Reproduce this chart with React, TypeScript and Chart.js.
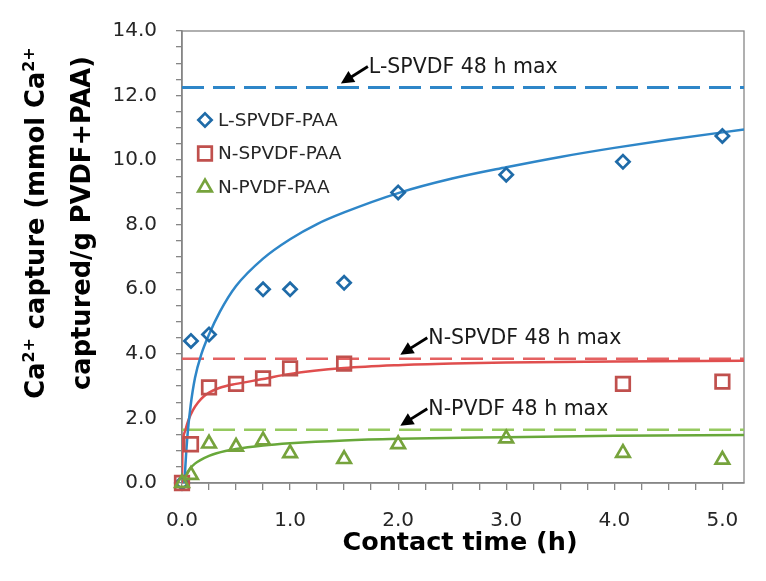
import React, { useEffect, useRef } from 'react';
import { Chart, registerables } from 'chart.js';

Chart.register(...registerables);

// ---------- data ----------
const seriesNames = ['L-SPVDF-PAA', 'N-SPVDF-PAA', 'N-PVDF-PAA'];

const lTimes = [0, 0.083, 0.25, 0.75, 1.0, 1.5, 2.0, 3.0, 4.08, 5.0];
const lValues = [0, 4.4, 4.6, 6.0, 6.0, 6.2, 9.0, 9.55, 9.95, 10.75];

const nsTimes = [0, 0.083, 0.25, 0.5, 0.75, 1.0, 1.5, 4.08, 5.0];
const nsValues = [0, 1.2, 2.96, 3.07, 3.24, 3.55, 3.7, 3.07, 3.14];

const npTimes = [0, 0.083, 0.25, 0.5, 0.75, 1.0, 1.5, 2.0, 3.0, 4.08, 5.0];
const npValues = [0, 0.25, 1.22, 1.12, 1.32, 0.92, 0.74, 1.2, 1.38, 0.93, 0.72];

// fitted curves
const lFitX = [0.024, 0.03, 0.05, 0.08, 0.12, 0.18, 0.25, 0.35, 0.5, 0.75, 1.0, 1.25, 1.5, 2.0, 2.5, 3.0, 3.5, 4.0, 4.5, 5.2];
const lFitY = [0, 0.45, 1.45, 2.4, 3.25, 4.0, 4.6, 5.3, 6.1, 6.95, 7.55, 8.02, 8.38, 8.98, 9.43, 9.78, 10.1, 10.38, 10.63, 10.95];

const nsFitX = [0, 0.004, 0.01, 0.03, 0.06, 0.1, 0.15, 0.2, 0.25, 0.35, 0.5, 0.75, 1.0, 1.5, 2.0, 2.5, 3.0, 4.0, 5.2];
const nsFitY = [0, 1.0, 1.35, 1.62, 1.95, 2.25, 2.5, 2.68, 2.8, 2.95, 3.07, 3.22, 3.38, 3.56, 3.65, 3.7, 3.73, 3.76, 3.79];

const npFitX = [0, 0.02, 0.04, 0.075, 0.12, 0.17, 0.25, 0.32, 0.5, 0.75, 1.0, 1.5, 2.0, 3.0, 4.0, 5.2];
const npFitY = [0, 0.15, 0.28, 0.45, 0.6, 0.71, 0.84, 0.92, 1.05, 1.16, 1.23, 1.32, 1.37, 1.42, 1.46, 1.49];

const maxLabels = ['L-SPVDF 48 h max', 'N-SPVDF 48 h max', 'N-PVDF 48 h max'];
const maxLevels = [12.25, 3.85, 1.65];
const maxArrowAt = [1.47, 2.02, 2.02];

const xTickValues = [0, 1, 2, 3, 4, 5];
const xTickLabels = ['0.0', '1.0', '2.0', '3.0', '4.0', '5.0'];
const yTickValues = [0, 2, 4, 6, 8, 10, 12, 14];
const yTickLabels = ['0.0', '2.0', '4.0', '6.0', '8.0', '10.0', '12.0', '14.0'];

const xTitle = 'Contact time (h)';
const yTitleLines: { t: string; sup?: boolean }[][] = [
  [{ t: 'Ca' }, { t: '2+', sup: true }, { t: ' capture (mmol Ca' }, { t: '2+', sup: true }],
  [{ t: 'captured/g PVDF+PAA)' }],
];

// ---------- styles ----------
const FONT = "'DejaVu Sans', sans-serif";
const AXIS = '#868686';
const TXT = '#262626';
const markerColors = ['#1F6BA8', '#C0504D', '#76A33C'];
const curveColors = ['#2E86C8', '#E04E4E', '#68A83A'];
const dashColors = ['#2E86C8', '#E46161', '#95C95F'];
const markerStyles = ['rectRot', 'rect', 'triangle'];
const markerRadius = [6.6, 9.6, 7.8];
const markerLine = 2.7;

const toXY = (xs: number[], ys: number[]) => xs.map((x, i) => ({ x, y: ys[i] }));
const labelFor = (vals: number[], labels: string[], v: number) => {
  const i = vals.findIndex((t) => Math.abs(t - v) < 1e-6);
  return i >= 0 ? labels[i] : '';
};

function drawMarker(ctx: CanvasRenderingContext2D, style: string, x: number, y: number, r: number) {
  ctx.beginPath();
  if (style === 'rectRot') {
    ctx.moveTo(x - r, y);
    ctx.lineTo(x, y - r);
    ctx.lineTo(x + r, y);
    ctx.lineTo(x, y + r);
    ctx.closePath();
  } else if (style === 'rect') {
    const s = Math.SQRT1_2 * r;
    ctx.rect(x - s, y - s, 2 * s, 2 * s);
  } else {
    ctx.moveTo(x, y - r);
    ctx.lineTo(x + 0.866 * r, y + 0.5 * r);
    ctx.lineTo(x - 0.866 * r, y + 0.5 * r);
    ctx.closePath();
  }
  ctx.stroke();
}

const decorPlugin = {
  id: 'decor',
  beforeDatasetsDraw(chart: any) {
    const { ctx, chartArea: a } = chart;
    ctx.save();
    ctx.strokeStyle = AXIS;
    ctx.lineWidth = 1.3;
    ctx.strokeRect(a.left, a.top, a.right - a.left, a.bottom - a.top);
    ctx.restore();
  },
  afterDraw(chart: any) {
    const { ctx, chartArea: a } = chart;
    const xs = chart.scales.x;
    const ys = chart.scales.y;
    ctx.save();

    // legend
    ctx.font = `18.5px ${FONT}`;
    ctx.textBaseline = 'middle';
    ctx.textAlign = 'left';
    const legendRows = [120, 153.5, 187.5];
    seriesNames.forEach((name, i) => {
      const cy = a.top + (legendRows[i] - 31);
      const cx = a.left + 23;
      ctx.strokeStyle = markerColors[i];
      ctx.lineWidth = markerLine;
      drawMarker(ctx, markerStyles[i], cx, cy, markerRadius[i]);
      ctx.fillStyle = TXT;
      ctx.fillText(name, cx + 13, cy + 1);
    });

    // max annotations with arrows
    maxLabels.forEach((label, i) => {
      const tipX = xs.getPixelForValue(maxArrowAt[i]);
      const tipY = ys.getPixelForValue(maxLevels[i]) - 4;
      const tailX = tipX + 27;
      const tailY = tipY - 17;
      const ang = Math.atan2(tipY - tailY, tipX - tailX);
      const hl = 13;
      const hw = 6.5;
      ctx.strokeStyle = '#000';
      ctx.fillStyle = '#000';
      ctx.lineWidth = 2.8;
      ctx.beginPath();
      ctx.moveTo(tailX, tailY);
      ctx.lineTo(tipX - Math.cos(ang) * hl * 0.8, tipY - Math.sin(ang) * hl * 0.8);
      ctx.stroke();
      ctx.beginPath();
      ctx.moveTo(tipX, tipY);
      ctx.lineTo(
        tipX - Math.cos(ang) * hl + Math.sin(ang) * hw,
        tipY - Math.sin(ang) * hl - Math.cos(ang) * hw
      );
      ctx.lineTo(
        tipX - Math.cos(ang) * hl - Math.sin(ang) * hw,
        tipY - Math.sin(ang) * hl + Math.cos(ang) * hw
      );
      ctx.closePath();
      ctx.fill();
      ctx.font = `20.5px ${FONT}`;
      ctx.textBaseline = 'alphabetic';
      ctx.fillStyle = '#1a1a1a';
      ctx.fillText(label, tipX + 28, tipY - 11);
    });

    // x title
    ctx.font = `bold 25.5px ${FONT}`;
    ctx.fillStyle = '#000';
    ctx.textAlign = 'center';
    ctx.textBaseline = 'alphabetic';
    ctx.fillText(xTitle, (a.left + a.right) / 2 - 3, a.bottom + 67);

    // y title (rotated, with superscripts)
    const size = 25.7;
    const supSize = size * 0.62;
    const baselines = [44, 89.5];
    const centerY = a.top + 192;
    yTitleLines.forEach((segs, li) => {
      ctx.save();
      ctx.translate(baselines[li], centerY);
      ctx.rotate(-Math.PI / 2);
      ctx.textAlign = 'left';
      ctx.textBaseline = 'alphabetic';
      let total = 0;
      const widths = segs.map((s) => {
        ctx.font = `bold ${s.sup ? supSize : size}px ${FONT}`;
        const w = ctx.measureText(s.t).width;
        total += w;
        return w;
      });
      let x = -total / 2;
      segs.forEach((s, si) => {
        ctx.font = `bold ${s.sup ? supSize : size}px ${FONT}`;
        ctx.fillStyle = '#000';
        ctx.fillText(s.t, x, s.sup ? -size * 0.4 : 0);
        x += widths[si];
      });
      ctx.restore();
    });

    ctx.restore();
  },
};

export default function App() {
  const ref = useRef<HTMLCanvasElement>(null);

  useEffect(() => {
    document.body.style.margin = '0';
    const canvas = ref.current;
    if (!canvas) return;

    const markerSets = [
      toXY(lTimes, lValues),
      toXY(nsTimes, nsValues),
      toXY(npTimes, npValues),
    ];
    const fitSets = [toXY(lFitX, lFitY), toXY(nsFitX, nsFitY), toXY(npFitX, npFitY)];

    const datasets: any[] = [];
    maxLevels.forEach((lvl, i) => {
      datasets.push({
        label: maxLabels[i],
        data: [
          { x: 0, y: lvl },
          { x: 5.2, y: lvl },
        ],
        showLine: true,
        borderColor: dashColors[i],
        borderWidth: i === 0 ? 3 : 2.6,
        borderDash: [22, 9],
        pointRadius: 0,
        order: 20,
      });
    });
    fitSets.forEach((d, i) => {
      datasets.push({
        label: seriesNames[i] + ' fit',
        data: d,
        showLine: true,
        borderColor: curveColors[i],
        borderWidth: 2.5,
        pointRadius: 0,
        tension: 0.4,
        cubicInterpolationMode: 'monotone',
        order: 10,
      });
    });
    markerSets.forEach((d, i) => {
      datasets.push({
        label: seriesNames[i],
        data: d,
        showLine: false,
        pointStyle: markerStyles[i],
        pointRadius: markerRadius[i],
        pointBorderWidth: markerLine,
        borderColor: markerColors[i],
        backgroundColor: 'rgba(0,0,0,0)',
        clip: false,
        order: 3 - i,
      });
    });

    const chart = new Chart(canvas, {
      type: 'scatter',
      data: { datasets },
      plugins: [decorPlugin],
      options: {
        responsive: false,
        animation: false,
        devicePixelRatio: 1,
        events: [],
        layout: { padding: { top: 31, right: 22, left: 0, bottom: 0 } },
        plugins: {
          legend: { display: false },
          tooltip: { enabled: false },
        },
        scales: {
          x: {
            type: 'linear',
            min: 0,
            max: 5.2,
            position: 'bottom',
            afterFit: (s: any) => {
              s.height = 98;
            },
            ticks: {
              stepSize: 0.25,
              includeBounds: false,
              autoSkip: false,
              maxRotation: 0,
              padding: 19,
              color: TXT,
              font: { family: FONT, size: 20 },
              callback: (v: any) => labelFor(xTickValues, xTickLabels, Number(v)),
            },
            grid: {
              drawOnChartArea: false,
              drawTicks: true,
              tickLength: 7,
              color: AXIS,
              tickColor: AXIS,
              lineWidth: 1.3,
            },
            border: { display: true, color: AXIS, width: 1.5 },
          },
          y: {
            type: 'linear',
            min: 0,
            max: 14,
            afterFit: (s: any) => {
              s.width = 182;
            },
            ticks: {
              stepSize: 0.5,
              includeBounds: false,
              autoSkip: false,
              padding: 19,
              color: TXT,
              font: { family: FONT, size: 20 },
              callback: (v: any) => labelFor(yTickValues, yTickLabels, Number(v)),
            },
            grid: {
              drawOnChartArea: false,
              drawTicks: true,
              tickLength: 6,
              color: AXIS,
              tickColor: AXIS,
              lineWidth: 1.3,
            },
            border: { display: true, color: AXIS, width: 1.5 },
          },
        },
      } as any,
    });

    return () => chart.destroy();
  }, []);

  return (
    <div style={{ width: 766, height: 581, background: '#fff' }}>
      <canvas ref={ref} width={766} height={581} style={{ display: 'block' }} />
    </div>
  );
}
